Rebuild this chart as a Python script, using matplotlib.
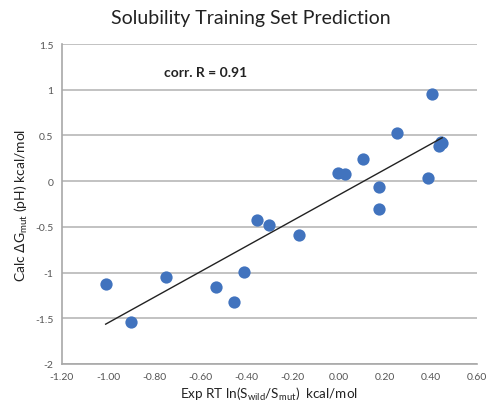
import numpy as np
import matplotlib
matplotlib.use("Agg")
import matplotlib.pyplot as plt

plt.rcParams['font.family'] = ['Lato', 'DejaVu Sans']

exp_x = [-1.01, -0.90, -0.75, -0.53, -0.455, -0.41, -0.355, -0.30, -0.17,
         0.00, 0.03, 0.107, 0.175, 0.175, 0.256, 0.404, 0.39, 0.446, 0.435, 0.45]
calc_y = [-1.13, -1.54, -1.05, -1.16, -1.32, -0.99, -0.42, -0.48, -0.59,
          0.09, 0.08, 0.245, -0.06, -0.30, 0.53, 0.95, 0.03, 0.43, 0.38, 0.42]
x_ticks = [-1.2, -1.0, -0.8, -0.6, -0.4, -0.2, 0.0, 0.2, 0.4, 0.6]
y_ticks = [-2, -1.5, -1, -0.5, 0, 0.5, 1, 1.5]
y_tick_labels = ['-2', '-1.5', '-1', '-0.5', '0', '0.5', '1', '1.5']
annotation = "corr. R = 0.91"

fig = plt.figure(figsize=(4.87, 4.10), dpi=100)
ax = fig.add_axes([0.127, 0.110, 0.852, 0.780])

ax.scatter(exp_x, calc_y, s=78, color='#4173BE', zorder=3, linewidths=0)

xa = np.array(exp_x)
ya = np.array(calc_y)
m, b = np.polyfit(xa, ya, 1)
xl = np.array([xa.min(), xa.max()])
ax.plot(xl, m * xl + b, color='#222222', lw=1.0, zorder=4)

ax.set_xlim(-1.2, 0.6)
ax.set_ylim(-2, 1.5)
ax.set_xticks(x_ticks)
ax.set_xticklabels([f"{t:.2f}" for t in x_ticks])
ax.set_yticks(y_ticks)
ax.set_yticklabels(y_tick_labels)
ax.tick_params(axis='both', length=0, labelsize=7.5, colors='#555555', pad=6)
ax.yaxis.grid(True, color='#b8b8b8', lw=1.2)
ax.set_axisbelow(True)
for s in ['top', 'right']:
    ax.spines[s].set_visible(False)
for s in ['left', 'bottom']:
    ax.spines[s].set_color('#a8a8a8')
    ax.spines[s].set_linewidth(1.2)

ax.text(-0.755, 1.19, annotation, fontsize=10, fontweight='bold', color='#222222',
        ha='left', va='center')

fig.text(0.515, 0.955, "Solubility Training Set Prediction", fontsize=14,
         ha='center', va='center', color='#222222')
ax.set_xlabel(r"Exp RT ln(S$_{\mathregular{wild}}$/S$_{\mathregular{mut}}$)  kcal/mol",
              fontsize=9.7, color='#222222', labelpad=3)
ax.set_ylabel(r"Calc $\Delta$G$_{\mathregular{mut}}$ (pH) kcal/mol",
              fontsize=10, color='#222222', labelpad=4)

fig.savefig("out.png", dpi=100)
